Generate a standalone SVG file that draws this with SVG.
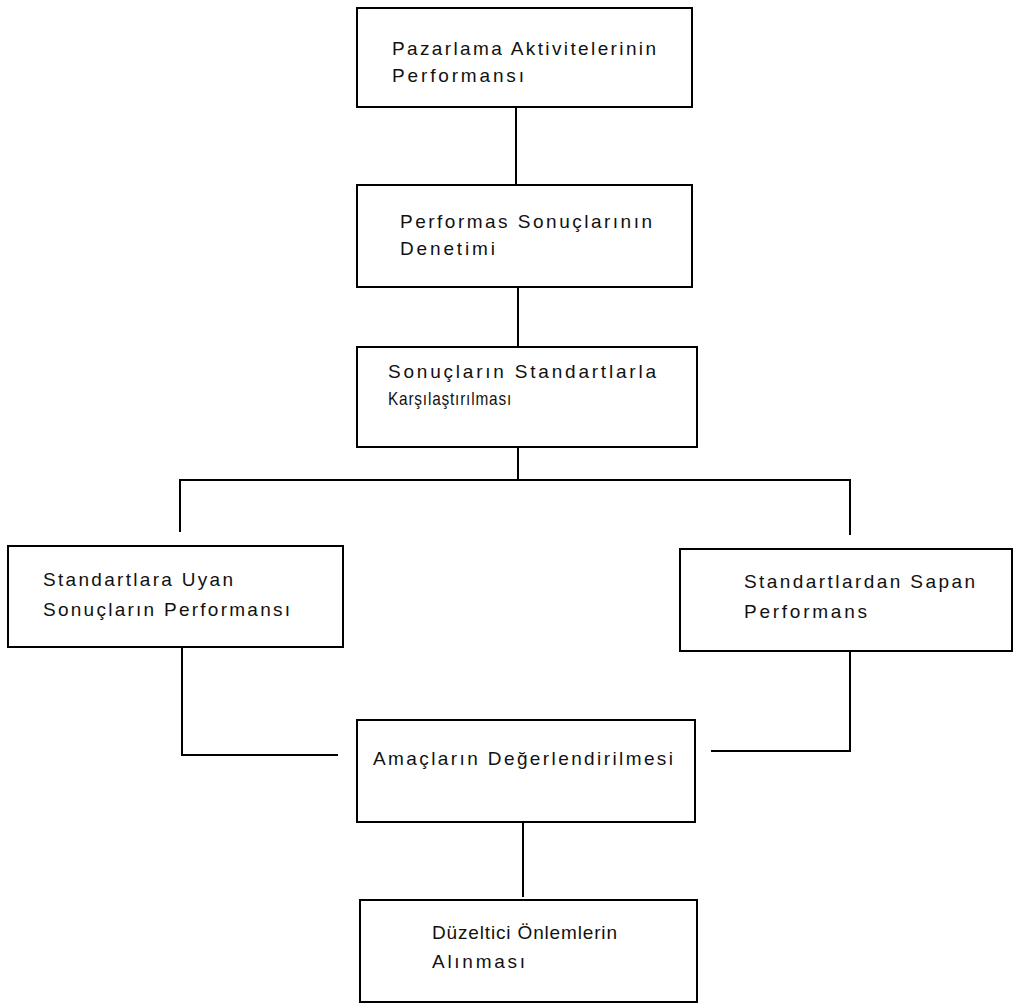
<svg xmlns="http://www.w3.org/2000/svg" width="1014" height="1004" viewBox="0 0 1014 1004">
<style>
.box{fill:#fff;stroke:#000;stroke-width:2}
.ln{fill:none;stroke:#000;stroke-width:2}
text{font-family:"Liberation Sans",Arial,sans-serif;font-size:19px;fill:#111}
</style>
<rect width="1014" height="1004" fill="#fff"/>
<g id="connectors">
<line class="ln" x1="516" y1="107" x2="516" y2="185"/>
<line class="ln" x1="518" y1="287" x2="518" y2="347"/>
<line class="ln" x1="518" y1="447" x2="518" y2="480"/>
<polyline class="ln" points="180,532 180,480 850,480 850,535"/>
<polyline class="ln" points="182,647 182,755 338,755"/>
<polyline class="ln" points="850,651 850,751 711,751"/>
<line class="ln" x1="523" y1="822" x2="523" y2="897"/>
</g>
<g id="n1"><rect class="box" x="357" y="8" width="335" height="99"/>
<text x="392" y="55" textLength="264" lengthAdjust="spacing">Pazarlama Aktivitelerinin</text>
<text x="392" y="82" textLength="132" lengthAdjust="spacing">Performansı</text></g>
<g id="n2"><rect class="box" x="357" y="185" width="335" height="102"/>
<text x="400" y="228" textLength="252" lengthAdjust="spacing">Performas Sonuçlarının</text>
<text x="400" y="255" textLength="95" lengthAdjust="spacing">Denetimi</text></g>
<g id="n3"><rect class="box" x="357" y="347" width="340" height="100"/>
<text x="388" y="378" textLength="268" lengthAdjust="spacing">Sonuçların Standartlarla</text>
<text x="388" y="405" textLength="124" lengthAdjust="spacingAndGlyphs" letter-spacing="1">Karşılaştırılması</text></g>
<g id="n4"><rect class="box" x="8" y="546" width="335" height="101"/>
<text x="43" y="586" textLength="190" lengthAdjust="spacing">Standartlara Uyan</text>
<text x="43" y="616" textLength="247" lengthAdjust="spacing">Sonuçların Performansı</text></g>
<g id="n5"><rect class="box" x="680" y="549" width="332" height="102"/>
<text x="744" y="588" textLength="231" lengthAdjust="spacing">Standartlardan Sapan</text>
<text x="744" y="618" textLength="123" lengthAdjust="spacing">Performans</text></g>
<g id="n6"><rect class="box" x="357" y="720" width="338" height="102"/>
<text x="373" y="765" textLength="300" lengthAdjust="spacing">Amaçların Değerlendirilmesi</text></g>
<g id="n7"><rect class="box" x="360" y="900" width="337" height="102"/>
<text x="432" y="939" textLength="185" lengthAdjust="spacing">Düzeltici Önlemlerin</text>
<text x="432" y="968" textLength="93" lengthAdjust="spacing">Alınması</text></g>
</svg>
